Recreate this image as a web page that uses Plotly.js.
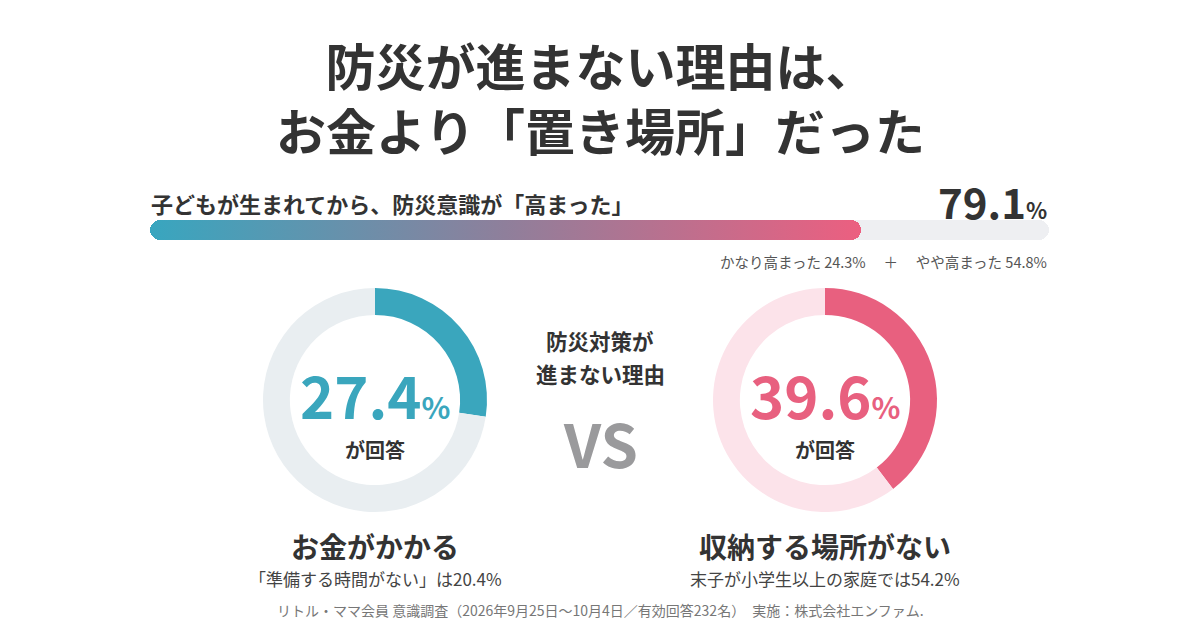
<!DOCTYPE html>
<html>
<head>
<meta charset="utf-8">
<script src="https://cdn.plot.ly/plotly-3.0.1.min.js"></script>
<style>
html,body{margin:0;padding:0;background:#fff;}
#chart{width:1200px;height:630px;}
</style>
</head>
<body>
<div id="chart"></div>
<script>
// ---- data ----
const titleLines = ['防災が進まない理由は、', 'お金より「置き場所」だった'];
const barLabel = '子どもが生まれてから、防災意識が「高まった」';
const barValue = 79.1;
const breakdownLabels = ['かなり高まった', 'やや高まった'];
const breakdownValues = [24.3, 54.8];
const reasonLabels = ['お金がかかる', '収納する場所がない'];
const reasonValues = [27.4, 39.6];
const reasonNotes = ['「準備する時間がない」は20.4%', '末子が小学生以上の家庭では54.2%'];
const centerLines = ['防災対策が', '進まない理由'];
const footer = 'リトル・ママ会員 意識調査（2026年9月25日〜10月4日／有効回答232名）　実施：株式会社エンファム.';

// ---- styles ----
const FONT = '"Noto Sans CJK JP", "Noto Sans", sans-serif';
const DARK = '#333333';
const TEAL = '#3aa6bd';
const PINK = '#e8607f';
const donutColors = [[TEAL, '#e9eef1'], [PINK, '#fce3ea']];
const donutX = [[263/1200, 487/1200], [713/1200, 937/1200]];
const donutY = [118/630, 342/630];
const W = 1200, H = 630;
const py = v => 1 - v / H;
const px = v => v / W;

const traces = [];
// progress bar: track + value
traces.push({
  type: 'bar', orientation: 'h', y: [barLabel], x: [100],
  marker: {color: '#eeeff2'}, hoverinfo: 'skip', showlegend: false,
  xaxis: 'x', yaxis: 'y'
});
traces.push({
  type: 'bar', orientation: 'h', y: [barLabel], x: [barValue],
  marker: {color: '#8e7f9a'}, hoverinfo: 'skip', showlegend: false,
  xaxis: 'x', yaxis: 'y'
});
// donuts
reasonValues.forEach((v, i) => {
  traces.push({
    type: 'pie', values: [v, 100 - v], labels: ['a' + i, 'b' + i],
    hole: 0.76, sort: false, direction: 'clockwise', rotation: 0,
    marker: {colors: donutColors[i], line: {width: 0}},
    textinfo: 'none', hoverinfo: 'skip', showlegend: false,
    domain: {x: donutX[i], y: donutY}
  });
});

const ann = [];
const A = (x, y, text, size, color, weight, xanchor) => ann.push({
  xref: 'paper', yref: 'paper', x: x, y: y, text: text, showarrow: false,
  xanchor: xanchor || 'center', yanchor: 'middle',
  font: {family: FONT, size: size, color: color, weight: weight || 400}
});
A(0.5, py(96), titleLines.join('<br>'), 50, DARK, 700);
A(px(149), py(203), barLabel, 22, DARK, 700, 'left');
A(px(1049), py(201), barValue.toFixed(1) + '<span style="font-size:22px">%</span>', 42, DARK, 700, 'right');
A(px(1049), py(261), breakdownLabels[0] + ' ' + breakdownValues[0].toFixed(1) + '%　 ＋ 　' +
  breakdownLabels[1] + ' ' + breakdownValues[1].toFixed(1) + '%', 14.5, '#555555', 400, 'right');

const donutCX = [375, 825];
const donutTextColor = [TEAL, PINK];
reasonValues.forEach((v, i) => {
  A(px(donutCX[i]), py(394), v.toFixed(1) + '<span style="font-size:30px">%</span>', 58, donutTextColor[i], 700);
  A(px(donutCX[i]), py(449), 'が回答', 20, DARK, 700);
  A(px(donutCX[i]), py(546), reasonLabels[i], 28, DARK, 700);
  A(px(donutCX[i]), py(578), reasonNotes[i], 17, '#444444', 400);
});
A(0.5, py(340), centerLines[0], 21.5, DARK, 700);
A(0.5, py(373), centerLines[1], 21.5, DARK, 700);
A(0.5, py(441), 'VS', 60, '#9a9a9c', 700);
A(0.5, py(610), footer, 14, '#777777', 400);

const layout = {
  width: W, height: H, margin: {l: 0, r: 0, t: 0, b: 0},
  paper_bgcolor: '#ffffff', plot_bgcolor: 'rgba(0,0,0,0)',
  barmode: 'overlay', bargap: 0,
  xaxis: {domain: [150/1200, 1049/1200], range: [0, 100], visible: false, fixedrange: true},
  yaxis: {domain: [py(240), py(220)], visible: false, fixedrange: true},
  annotations: ann,
  showlegend: false
};

Plotly.newPlot('chart', traces, layout, {staticPlot: true, displayModeBar: false}).then(gd => {
  const svg = gd.querySelector('svg.main-svg');
  const ns = 'http://www.w3.org/2000/svg';
  let defs = svg.querySelector('defs');
  if (!defs) { defs = document.createElementNS(ns, 'defs'); svg.insertBefore(defs, svg.firstChild); }
  const g = document.createElementNS(ns, 'linearGradient');
  g.setAttribute('id', 'barGrad');
  g.setAttribute('x1', '0'); g.setAttribute('x2', '1'); g.setAttribute('y1', '0'); g.setAttribute('y2', '0');
  [['0', '#38a6bf'], ['0.5', '#8f7f9b'], ['1', '#ec5f80']].forEach(s => {
    const st = document.createElementNS(ns, 'stop');
    st.setAttribute('offset', s[0]); st.setAttribute('stop-color', s[1]);
    g.appendChild(st);
  });
  defs.appendChild(g);
  // round both ends of each bar (pill shape), using the geometry Plotly drew
  const roundIt = p => {
    const b = p.getBBox();
    const r = b.height / 2, x = b.x, y = b.y, w = b.width, h = b.height;
    p.setAttribute('d', `M${x + r},${y}H${x + w - r}A${r},${r} 0 0 1 ${x + w - r},${y + h}H${x + r}A${r},${r} 0 0 1 ${x + r},${y}Z`);
  };
  const tr = gd.querySelectorAll('.barlayer .trace');
  tr.forEach((t, k) => {
    t.querySelectorAll('path').forEach(p => {
      roundIt(p);
      if (k === 1) p.style.fill = 'url(#barGrad)';
    });
  });
});
</script>
</body>
</html>
